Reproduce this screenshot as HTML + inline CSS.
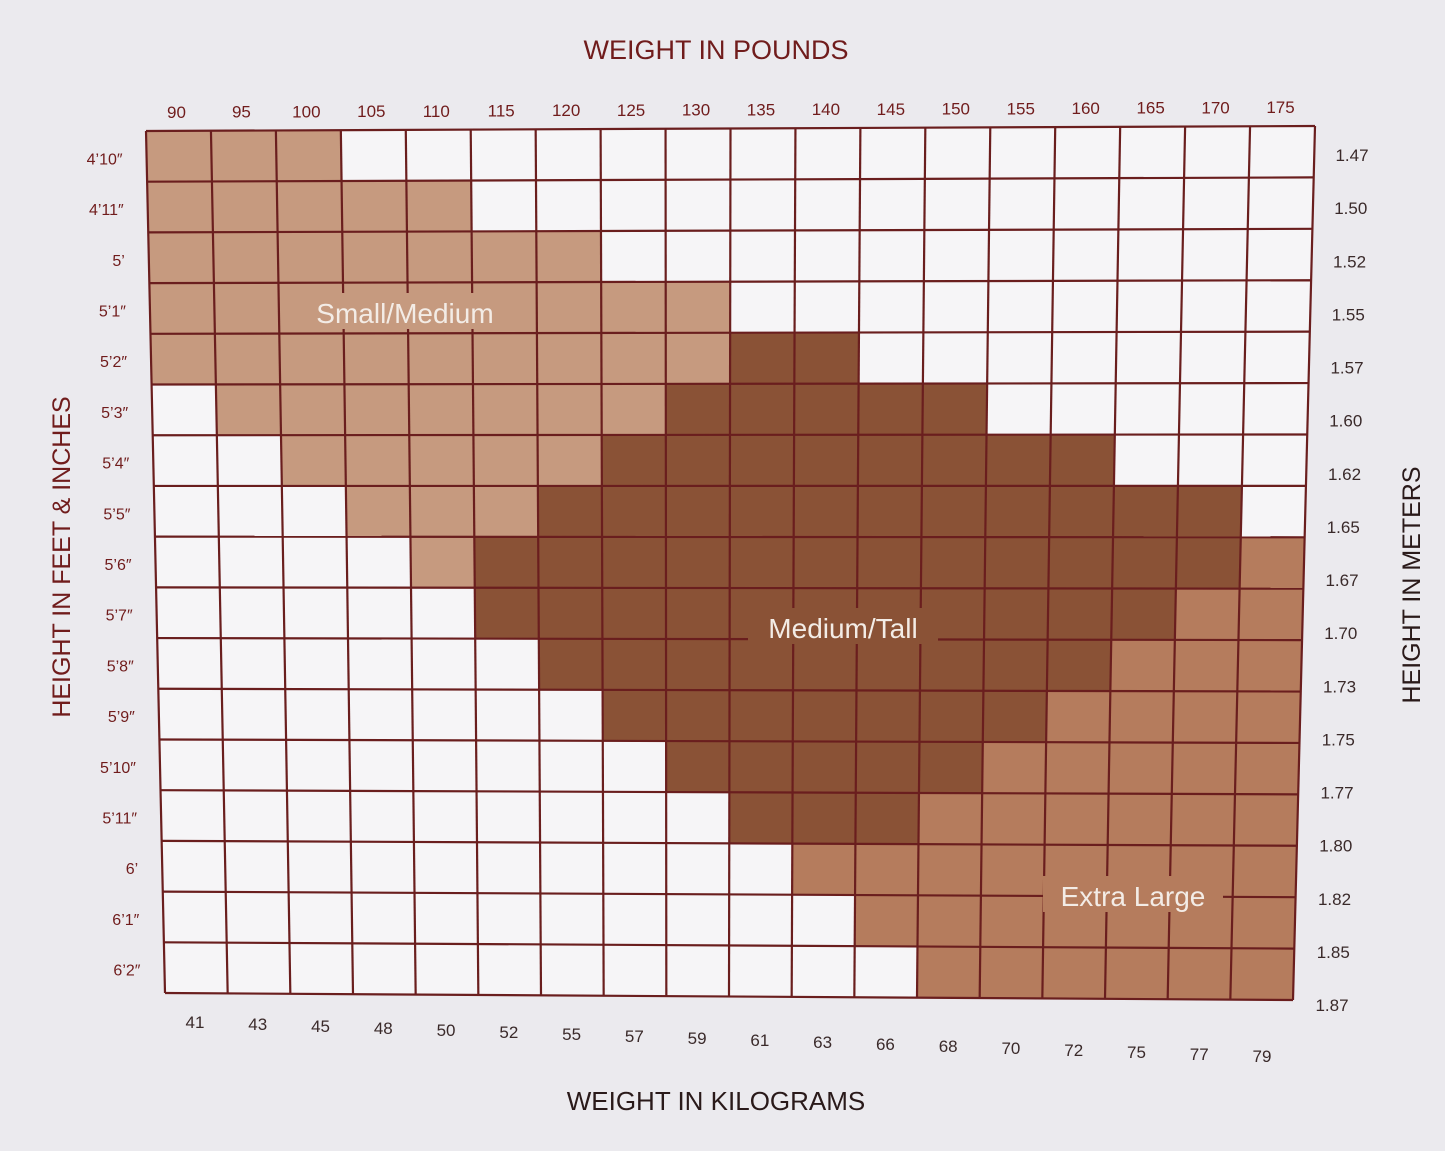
<!DOCTYPE html><html><head><meta charset="utf-8"><style>
html,body{margin:0;padding:0;background:#ebeaee;}
svg{display:block}
text{font-family:"Liberation Sans",sans-serif;}
</style></head><body>
<svg id="s" width="1445" height="1151" xmlns="http://www.w3.org/2000/svg"></svg>
<script>
const S=document.getElementById('s');
const TL=[146,131],TR=[1315,126],BL=[165,993],BR=[1293,1000];
const NC=18,NR=17;
function P(u,v){const x=(1-u)*(1-v)*TL[0]+u*(1-v)*TR[0]+(1-u)*v*BL[0]+u*v*BR[0];
const y=(1-u)*(1-v)*TL[1]+u*(1-v)*TR[1]+(1-u)*v*BL[1]+u*v*BR[1];return [x,y];}
const rows=[
"LLLWWWWWWWWWWWWWWW",
"LLLLLWWWWWWWWWWWWW",
"LLLLLLLWWWWWWWWWWW",
"LLLLLLLLLWWWWWWWWW",
"LLLLLLLLLDDWWWWWWW",
"WLLLLLLLDDDDDWWWWW",
"WWLLLLLDDDDDDDDWWW",
"WWWLLLDDDDDDDDDDDW",
"WWWWLDDDDDDDDDDDDX",
"WWWWWDDDDDDDDDDDXX",
"WWWWWWDDDDDDDDDXXX",
"WWWWWWWDDDDDDDXXXX",
"WWWWWWWWDDDDDXXXXX",
"WWWWWWWWWDDDXXXXXX",
"WWWWWWWWWWXXXXXXXX",
"WWWWWWWWWWWXXXXXXX",
"WWWWWWWWWWWWXXXXXX"];
const col={W:'#f6f5f7',L:'#c69a7f',D:'#8a5236',X:'#b57c5d'};
let h='';
for(let r=0;r<NR;r++)for(let c=0;c<NC;c++){
const a=P(c/NC,r/NR),b=P((c+1)/NC,r/NR),d=P((c+1)/NC,(r+1)/NR),e=P(c/NC,(r+1)/NR);
h+=`<polygon points="${a} ${b} ${d} ${e}" fill="${col[rows[r][c]]}"/>`;}
const LC='#6a1e1e';
for(let c=0;c<=NC;c++){const a=P(c/NC,0),b=P(c/NC,1);h+=`<line x1="${a[0]}" y1="${a[1]}" x2="${b[0]}" y2="${b[1]}" stroke="${LC}" stroke-width="2.2"/>`;}
for(let r=0;r<=NR;r++){const a=P(0,r/NR),b=P(1,r/NR);h+=`<line x1="${a[0]}" y1="${a[1]}" x2="${b[0]}" y2="${b[1]}" stroke="${LC}" stroke-width="2.2"/>`;}
const TC='#701c1c';
const lbs=[90,95,100,105,110,115,120,125,130,135,140,145,150,155,160,165,170,175];
const kg=[41,43,45,48,50,52,55,57,59,61,63,66,68,70,72,75,77,79];
for(let c=0;c<NC;c++){const p=P((c+.5)/NC,0);h+=`<text x="${p[0]-2}" y="${p[1]-13}" font-size="17" fill="${TC}" text-anchor="middle">${lbs[c]}</text>`;
const x=195+c*(1262-195)/17, y=1028+c*(1062-1028)/17;
h+=`<text x="${x}" y="${y}" font-size="17" fill="#3a2a2a" text-anchor="middle">${kg[c]}</text>`;}
const ft=["4’10″","4’11″","5’","5’1″","5’2″","5’3″","5’4″","5’5″","5’6″","5’7″","5’8″","5’9″","5’10″","5’11″","6’","6’1″","6’2″"];
const m=["1.47","1.50","1.52","1.55","1.57","1.60","1.62","1.65","1.67","1.70","1.73","1.75","1.77","1.80","1.82","1.85","1.87"];
for(let r=0;r<NR;r++){const p=P(0,(r+.5)/NR);h+=`<text x="${p[0]-24}" y="${p[1]+8}" font-size="16" fill="${TC}" text-anchor="end">${ft[r]}</text>`;
const x=1352-r*20/16, y=161+r*(1011-161)/16;
h+=`<text x="${x}" y="${y}" font-size="17" fill="#3a2a2a" text-anchor="middle">${m[r]}</text>`;}
h+=`<text x="716" y="59" font-size="27" fill="${TC}" text-anchor="middle">WEIGHT IN POUNDS</text>`;
h+=`<text x="716" y="1110" font-size="26" fill="#2a1a1a" text-anchor="middle">WEIGHT IN KILOGRAMS</text>`;
h+=`<text transform="translate(70,557) rotate(-90)" font-size="25" fill="${TC}" text-anchor="middle">HEIGHT IN FEET &amp; INCHES</text>`;
h+=`<text transform="translate(1420,585) rotate(-90)" font-size="25" fill="#2a1a1a" text-anchor="middle">HEIGHT IN METERS</text>`;
function lab(t,x,y,w,fill){h+=`<rect x="${x-w/2}" y="${y-22}" width="${w}" height="36" fill="${fill}"/><text x="${x}" y="${y+8}" font-size="28" fill="#f3ece6" text-anchor="middle">${t}</text>`;}
lab("Small/Medium",405,315,200,col.L);
lab("Medium/Tall",843,630,190,col.D);
lab("Extra Large",1133,898,180,col.X);
S.innerHTML=h;
</script>
</body></html>
